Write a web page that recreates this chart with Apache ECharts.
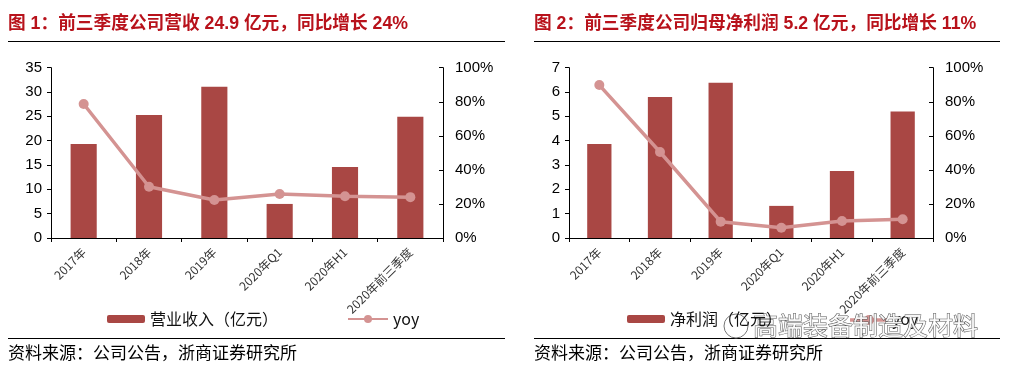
<!DOCTYPE html>
<html>
<head>
<meta charset="utf-8">
<script src="https://cdn.jsdelivr.net/npm/echarts@6/dist/echarts.min.js"></script>
<style>html,body{margin:0;padding:0;background:#fff;}#c{width:1011px;height:375px;}</style>
</head>
<body>
<div id="c"></div>
<script>
const categories = ['2017年', '2018年', '2019年', '2020年Q1', '2020年H1', '2020年前三季度'];
const revenue = [19.3, 25.3, 31.1, 7.0, 14.6, 24.9];
const revenueYoy = [0.787, 0.301, 0.223, 0.258, 0.245, 0.24];
const netProfit = [3.86, 5.8, 6.38, 1.32, 2.75, 5.2];
const netProfitYoy = [0.898, 0.505, 0.096, 0.06, 0.10, 0.11];
const title1 = '图 1：前三季度公司营收 24.9 亿元，同比增长 24%';
const title2 = '图 2：前三季度公司归母净利润 5.2 亿元，同比增长 11%';
const sourceText = '资料来源：公司公告，浙商证券研究所';
const leftTicks1 = [0, 35, 5];
const leftTicks2 = [0, 7, 1];

const BAR = '#A94744';
const LINE = '#D49392';
const RED = '#B8121B';
const FONT = '"Liberation Sans", Arial, "Noto Sans CJK SC", sans-serif';
const CJK = '"Noto Sans CJK SC", "Liberation Sans", sans-serif';

const chart = echarts.init(document.getElementById('c'), null, {renderer: 'canvas'});

function xAxis(gi) {
  return {
    type: 'category', gridIndex: gi, data: categories, boundaryGap: true,
    axisLine: {lineStyle: {color: '#000', width: 1}},
    axisTick: {show: true, length: 4, lineStyle: {color: '#000'}},
    axisLabel: {rotate: 45, fontSize: 12, color: '#333', fontFamily: CJK, margin: 12, interval: 0}
  };
}
function leftAxis(gi, t) {
  return {
    type: 'value', gridIndex: gi, position: 'left', min: t[0], max: t[1], interval: t[2],
    splitLine: {show: false},
    axisLine: {show: true, lineStyle: {color: '#000', width: 1}},
    axisTick: {show: true, length: 4, lineStyle: {color: '#000'}},
    axisLabel: {fontSize: 15, color: '#000', fontFamily: FONT, margin: 9}
  };
}
function rightAxis(gi) {
  return {
    type: 'value', gridIndex: gi, position: 'right', min: 0, max: 1, interval: 0.2,
    splitLine: {show: false},
    axisLine: {show: true, lineStyle: {color: '#000', width: 1}},
    axisTick: {show: true, inside: true, length: 4, lineStyle: {color: '#000'}},
    axisLabel: {fontSize: 15, color: '#000', fontFamily: FONT, margin: 12,
      formatter: v => Math.round(v * 100) + '%'}
  };
}
function legend(name, left, w) {
  return {
    data: [name], left: left, top: 311, itemGap: 0, padding: 0,
    itemWidth: w, itemHeight: name === 'yoy' ? 10 : 8,
    textStyle: {fontSize: 16, color: '#111', fontFamily: CJK},
    selectedMode: false
  };
}
function lineSeries(xi, yi, data) {
  return {
    name: 'yoy', type: 'line', xAxisIndex: xi, yAxisIndex: yi, data: data,
    symbol: 'circle', symbolSize: 10, lineStyle: {color: LINE, width: 3.5},
    itemStyle: {color: LINE}, z: 5
  };
}

const option = {
  animation: false,
  backgroundColor: '#fff',
  grid: [
    {left: 51, right: 568, top: 67.7, bottom: 137},
    {left: 569, right: 78, top: 67.7, bottom: 137}
  ],
  xAxis: [xAxis(0), xAxis(1)],
  yAxis: [leftAxis(0, leftTicks1), rightAxis(0), leftAxis(1, leftTicks2), rightAxis(1)],
  legend: [
    legend('营业收入（亿元）', 107, 38),
    legend('yoy', 347, 40),
    legend('净利润（亿元）', 627, 38),
  ],
  series: [
    {name: '营业收入（亿元）', type: 'bar', xAxisIndex: 0, yAxisIndex: 0, data: revenue,
      barWidth: '40%', itemStyle: {color: BAR}},
    lineSeries(0, 1, revenueYoy),
    {name: '净利润（亿元）', type: 'bar', xAxisIndex: 1, yAxisIndex: 2, data: netProfit,
      barWidth: '40%', itemStyle: {color: BAR}},
    lineSeries(1, 3, netProfitYoy)
  ],
  graphic: [
    {type: 'text', left: 8, top: 15, style: {text: title1, fill: RED, font: 'bold 17.7px ' + FONT}},
    {type: 'text', left: 534, top: 15, style: {text: title2, fill: RED, font: 'bold 17.7px ' + FONT}},
    {type: 'line', shape: {x1: 8, y1: 41.5, x2: 505, y2: 41.5}, style: {stroke: '#000', lineWidth: 1}},
    {type: 'line', shape: {x1: 534, y1: 41.5, x2: 1000, y2: 41.5}, style: {stroke: '#000', lineWidth: 1}},
    {type: 'line', shape: {x1: 8, y1: 338.5, x2: 505, y2: 338.5}, style: {stroke: '#000', lineWidth: 1}},
    {type: 'line', shape: {x1: 534, y1: 338.5, x2: 1000, y2: 338.5}, style: {stroke: '#000', lineWidth: 1}},
    {type: 'text', left: 8, top: 344, style: {text: sourceText, fill: '#000', font: '17px ' + CJK}},
    {type: 'text', left: 534, top: 344, style: {text: sourceText, fill: '#000', font: '17px ' + CJK}},
    {type: 'group', z: 100, children: [
      {type: 'line', shape: {x1: 850, y1: 320, x2: 888, y2: 320}, style: {stroke: LINE, lineWidth: 3.5}},
      {type: 'circle', shape: {cx: 869, cy: 320, r: 5}, style: {fill: LINE}},
      {type: 'text', x: 892, y: 311, style: {text: 'yoy', fill: '#111', font: '16px ' + CJK}},
      {type: 'circle', shape: {cx: 736, cy: 326, r: 12}, style: {fill: 'rgba(255,255,255,0.85)', stroke: '#777', lineWidth: 1}},
      {type: 'text', x: 753, y: 313, style: {text: '高端装备制造及材料', fill: 'rgba(255,255,255,0.9)', stroke: '#555', lineWidth: 1, font: '25px ' + CJK}}
    ]}
  ]
};
chart.setOption(option);
</script>
</body>
</html>
